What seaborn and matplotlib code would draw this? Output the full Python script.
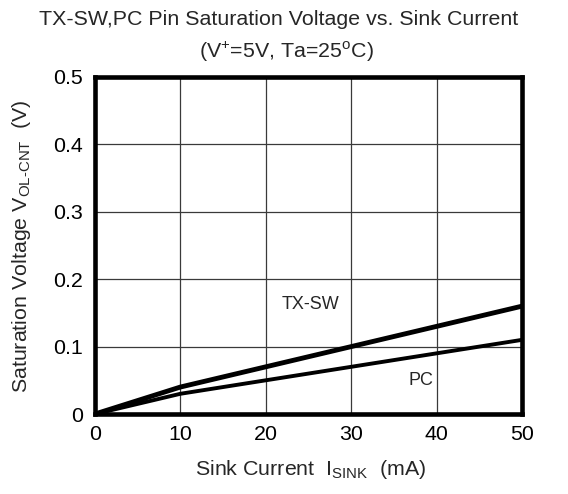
import matplotlib
matplotlib.use("Agg")
import matplotlib.pyplot as plt
import seaborn as sns
import pandas as pd

sink_current = [0, 10, 20, 30, 40, 50]
txsw_voltage = [0.0, 0.04, 0.07, 0.10, 0.13, 0.16]
pc_voltage = [0.0, 0.03, 0.05, 0.07, 0.09, 0.11]
x_ticks = [0, 10, 20, 30, 40, 50]
y_ticks = [0, 0.1, 0.2, 0.3, 0.4, 0.5]
y_tick_labels = ["0", "0.1", "0.2", "0.3", "0.4", "0.5"]

sns.set_style("white")
plt.rcParams['font.family'] = ['Liberation Sans', 'DejaVu Sans']
plt.rcParams['mathtext.fontset'] = 'custom'
plt.rcParams['mathtext.rm'] = 'Liberation Sans'
plt.rcParams['mathtext.it'] = 'Liberation Sans'
plt.rcParams['mathtext.default'] = 'regular'

FS = 15.4

fig = plt.figure(figsize=(5.68, 4.94), dpi=100)
ax = fig.add_axes([95/568, 1-414/494, (522-95)/568, (414-77)/494])

df_tx = pd.DataFrame({"x": sink_current, "y": txsw_voltage})
df_pc = pd.DataFrame({"x": sink_current, "y": pc_voltage})
sns.lineplot(data=df_tx, x="x", y="y", ax=ax, color="black", linewidth=3.5, zorder=3)
sns.lineplot(data=df_pc, x="x", y="y", ax=ax, color="black", linewidth=2.8, zorder=3)

ax.set_xlim(0, 50)
ax.set_ylim(0, 0.5)
ax.set_xticks(x_ticks)
ax.set_xticklabels([str(v) for v in x_ticks])
ax.set_yticks(y_ticks)
ax.set_yticklabels(y_tick_labels)
ax.tick_params(axis='both', length=0, labelsize=FS, colors='black')
ax.tick_params(axis='y', pad=8.5)
ax.tick_params(axis='x', pad=8)
ax.grid(True, color='#3a3a3a', linewidth=0.9)
ax.set_axisbelow(True)
for s in ax.spines.values():
    s.set_visible(True)
    s.set_color('black')
    s.set_linewidth(3.3)

ax.set_xlabel("")
ax.set_ylabel("")
ax.text(0.505, -0.181, r"Sink Current  I$_{SINK}$  (mA)", fontsize=FS,
        ha='center', va='baseline', transform=ax.transAxes)
ax.text(-0.159, 0.497, r"Saturation Voltage V$_{OL\text{-}CNT}$  (V)", fontsize=FS,
        ha='center', va='baseline', rotation=90, rotation_mode='anchor',
        transform=ax.transAxes)

ax.text(25.2, 0.162, "TX-SW", fontsize=13, ha='center', va='center', zorder=4)
ax.text(38.2, 0.050, "PC", fontsize=13, ha='center', va='center', zorder=4,
        bbox=dict(facecolor='white', edgecolor='none', pad=1))

fig.text(279/568, 1-25/494, "TX-SW,PC Pin Saturation Voltage vs. Sink Current",
         fontsize=FS, ha='center', va='baseline')
fig.text(286/568, 1-58/494, r"(V$^{+}$=5V, Ta=25$^{o}$C)",
         fontsize=FS, ha='center', va='baseline')

fig.savefig("out.png", dpi=100)
